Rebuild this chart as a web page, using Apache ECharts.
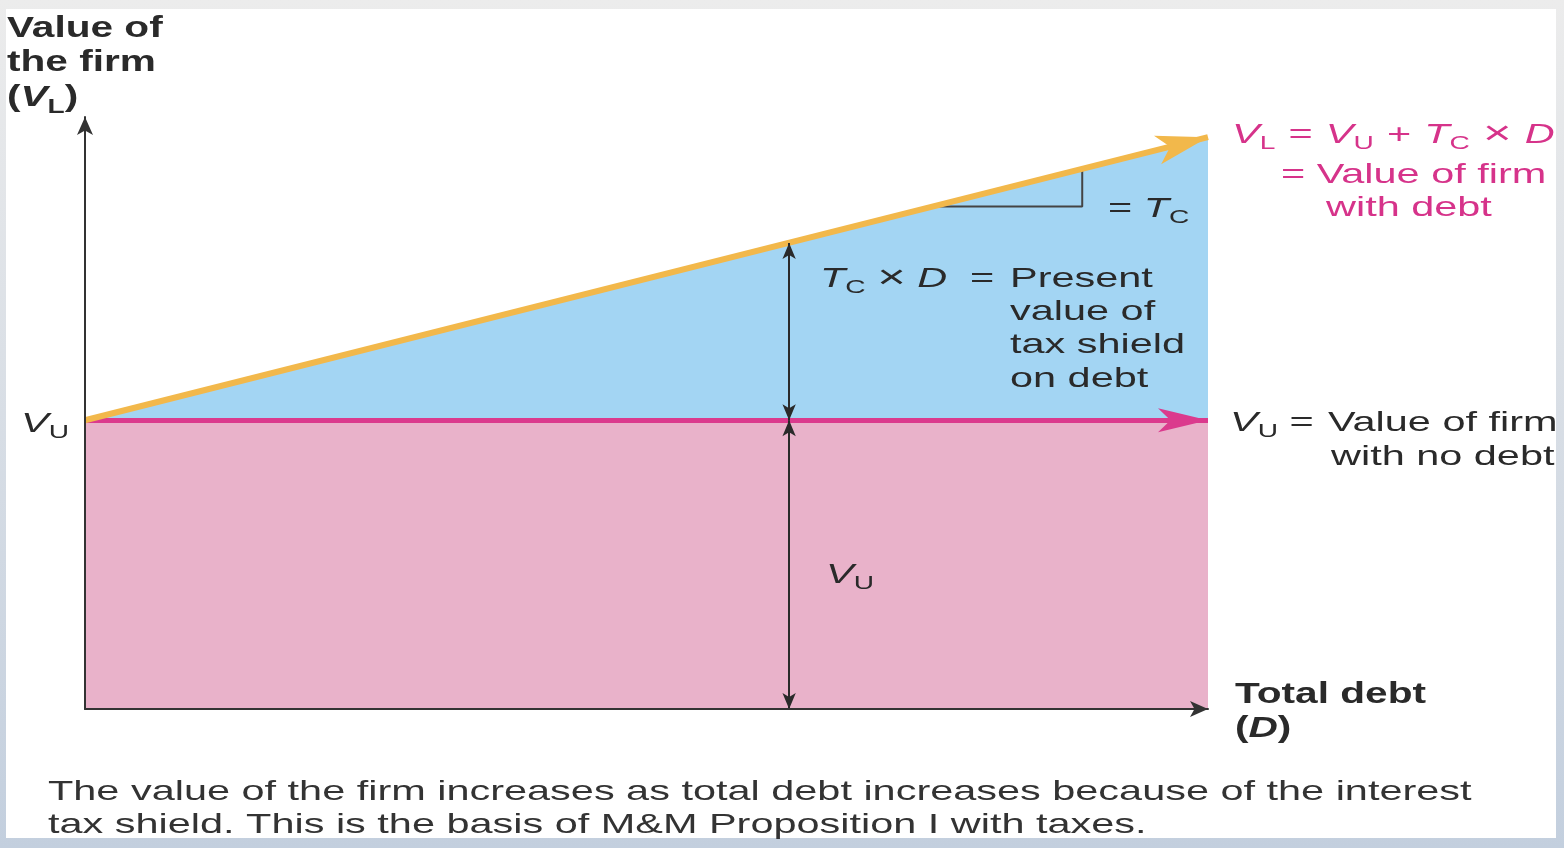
<!DOCTYPE html>
<html><head><meta charset="utf-8">
<script src="https://cdn.jsdelivr.net/npm/echarts@6/dist/echarts.min.js"></script>
<style>html,body{margin:0;padding:0;background:#fff}#c{width:1564px;height:848px}</style>
</head><body><div id="c"></div><script>
// ---- data ----
const debtRange = [0, 100];
const valueRange = [0, 205];
const unleveredLine = [[0, 100], [100, 100]];
const leveredLine = [[0, 100], [100, 198]];
const shieldArrowX = 62.7;
const shieldArrowTop = 161.4;
const slopeTriangle = [[75.5, 174.0], [88.8, 174.0], [88.8, 187.0]];
const titleLines = ['Value of', 'the firm'];
const captionLines = [
  'The value of the firm increases as total debt increases because of the interest',
  'tax shield. This is the basis of M&M Proposition I with taxes.'
];
const leveredLabelLines = ['= Value of firm', 'with debt'];
const unleveredLabelLines = ['Value of firm', 'with no debt'];
const shieldLabelLines = ['Present', 'value of', 'tax shield', 'on debt'];
const xAxisLabelLines = ['Total debt'];

// ---- styles ----
const FONT = '"Liberation Sans", Arial, Helvetica, sans-serif';
const SX = 1.48, SXB = 1.40;
const DARK = '#2a2a2a', PINK = '#d6338a';
const richReg = {
  n: {fontSize: 28, fontFamily: FONT, lineHeight: 40},
  w: {fontSize: 32, fontFamily: FONT, lineHeight: 40},
  x: {fontSize: 33, fontFamily: FONT, lineHeight: 40},
  i: {fontSize: 28, fontFamily: FONT, fontStyle: 'italic', lineHeight: 40},
  s: {fontSize: 19, fontFamily: FONT, lineHeight: 20, padding: [18, 0, 0, 0]}
};
const richBold = {
  n: {fontSize: 29, fontFamily: FONT, fontWeight: 'bold', lineHeight: 40},
  i: {fontSize: 29, fontFamily: FONT, fontWeight: 'bold', fontStyle: 'italic', lineHeight: 40},
  s: {fontSize: 20, fontFamily: FONT, fontWeight: 'bold', lineHeight: 20, padding: [18, 0, 0, 0]}
};
function txt(x, y, text, color, bold) {
  return {
    type: 'text', x: x, y: y + (bold ? 3 : 2), scaleX: bold ? SXB : SX, z: 100,
    style: {
      text: text, rich: bold ? richBold : richReg, fill: color,
      fontSize: bold ? 29 : 28, fontFamily: FONT, fontWeight: bold ? 'bold' : 'normal',
      align: 'left', verticalAlign: 'middle'
    }
  };
}

const texts = [];
texts.push(txt(7, 26, '{n|' + titleLines[0] + '}', DARK, true));
texts.push(txt(7, 60, '{n|' + titleLines[1] + '}', DARK, true));
texts.push(txt(7, 95, '{n|(}{i|V}{s|L}{n|)}', DARK, true));
texts.push(txt(21, 422, '{i|V}{s|U}', DARK, false));
texts.push(txt(1232, 133, '{i|V}{s|L}{w| }{n|=}{w| }{i|V}{s|U}{w| }{n|+}{w| }{i|T}{s|C}{w| }{x|×}{w| }{i|D}', PINK, false));
texts.push(txt(1281, 173, '{n|' + leveredLabelLines[0] + '}', PINK, false));
texts.push(txt(1326, 206, '{n|' + leveredLabelLines[1] + '}', PINK, false));
texts.push(txt(1108, 207, '{n|= }{i|T}{s|C}', DARK, false));
texts.push(txt(820, 277, '{i|T}{s|C}{n| }{x|×}{n| }{i|D}{n|  = }', DARK, false));
texts.push(txt(1010, 277, '{n|' + shieldLabelLines[0] + '}', DARK, false));
texts.push(txt(1010, 310, '{n|' + shieldLabelLines[1] + '}', DARK, false));
texts.push(txt(1010, 343, '{n|' + shieldLabelLines[2] + '}', DARK, false));
texts.push(txt(1010, 377, '{n|' + shieldLabelLines[3] + '}', DARK, false));
texts.push(txt(1230, 421, '{i|V}{s|U}{n| = }', DARK, false));
texts.push(txt(1328, 421, '{n|' + unleveredLabelLines[0] + '}', DARK, false));
texts.push(txt(1331, 455, '{n|' + unleveredLabelLines[1] + '}', DARK, false));
texts.push(txt(826, 573, '{i|V}{s|U}', DARK, false));
texts.push(txt(1235, 692, '{n|' + xAxisLabelLines[0] + '}', DARK, true));
texts.push(txt(1235, 726, '{n|(}{i|D}{n|)}', DARK, true));
texts.push(txt(48, 790, '{n|' + captionLines[0] + '}', '#333', false));
texts.push(txt(48, 823, '{n|' + captionLines[1] + '}', '#333', false));

const chart = echarts.init(document.getElementById('c'), null, {renderer: 'canvas'});
const option = {
  animation: false,
  backgroundColor: {type: 'linear', x: 0, y: 0, x2: 0, y2: 1,
    colorStops: [{offset: 0, color: '#ececec'}, {offset: 1, color: '#c3cfde'}]},
  grid: {left: 85, right: 356, top: 117, bottom: 139},
  xAxis: {
    type: 'value', min: debtRange[0], max: debtRange[1], z: 10,
    axisLine: {show: true, onZero: false, symbol: ['none', 'arrow'], symbolSize: [12, 18], symbolOffset: [0, 0],
      lineStyle: {color: '#333', width: 2}},
    axisTick: {show: false}, axisLabel: {show: false}, splitLine: {show: false}
  },
  yAxis: {
    type: 'value', min: valueRange[0], max: valueRange[1], z: 10,
    axisLine: {show: true, onZero: false, symbol: ['none', 'arrow'], symbolSize: [12, 18], symbolOffset: [0, 0],
      lineStyle: {color: '#333', width: 2}},
    axisTick: {show: false}, axisLabel: {show: false}, splitLine: {show: false}
  },
  graphic: [
    {type: 'rect', z: -1, shape: {x: 6, y: 9, width: 1550, height: 829}, style: {fill: '#ffffff'}}
  ].concat(texts),
  series: [
    {type: 'line', data: leveredLine, symbol: 'none', z: 1,
      lineStyle: {width: 0}, areaStyle: {color: '#a3d5f3', opacity: 1}},
    {type: 'line', data: unleveredLine, symbol: 'none', z: 2,
      lineStyle: {width: 0}, areaStyle: {color: '#e9b2ca', opacity: 1}},
    {type: 'line', data: [], z: 4,
      markLine: {silent: true, symbol: ['none', 'arrow'], symbolSize: [18, 50],
        label: {show: false}, lineStyle: {color: '#db3a8d', width: 5, type: 'solid'},
        data: [[{coord: unleveredLine[0]}, {coord: unleveredLine[1]}]]}},
    {type: 'line', data: [], z: 5,
      markLine: {silent: true, symbol: ['none', 'arrow'], symbolSize: [22, 52],
        label: {show: false}, lineStyle: {color: '#f2b84b', width: 6, type: 'solid'},
        data: [[{coord: leveredLine[0]}, {coord: leveredLine[1]}]]}},
    {type: 'line', data: slopeTriangle, symbol: 'none', z: 3,
      lineStyle: {color: '#444', width: 2}},
    {type: 'line', data: [], z: 6,
      markLine: {silent: true, symbol: ['arrow', 'arrow'], symbolSize: [10, 16],
        label: {show: false}, lineStyle: {color: '#2a2a2a', width: 2, type: 'solid'},
        data: [
          [{coord: [shieldArrowX, unleveredLine[0][1]]}, {coord: [shieldArrowX, shieldArrowTop]}],
          [{coord: [shieldArrowX, unleveredLine[0][1]]}, {coord: [shieldArrowX, valueRange[0]]}]
        ]}}
  ]
};
chart.setOption(option);
</script></body></html>
